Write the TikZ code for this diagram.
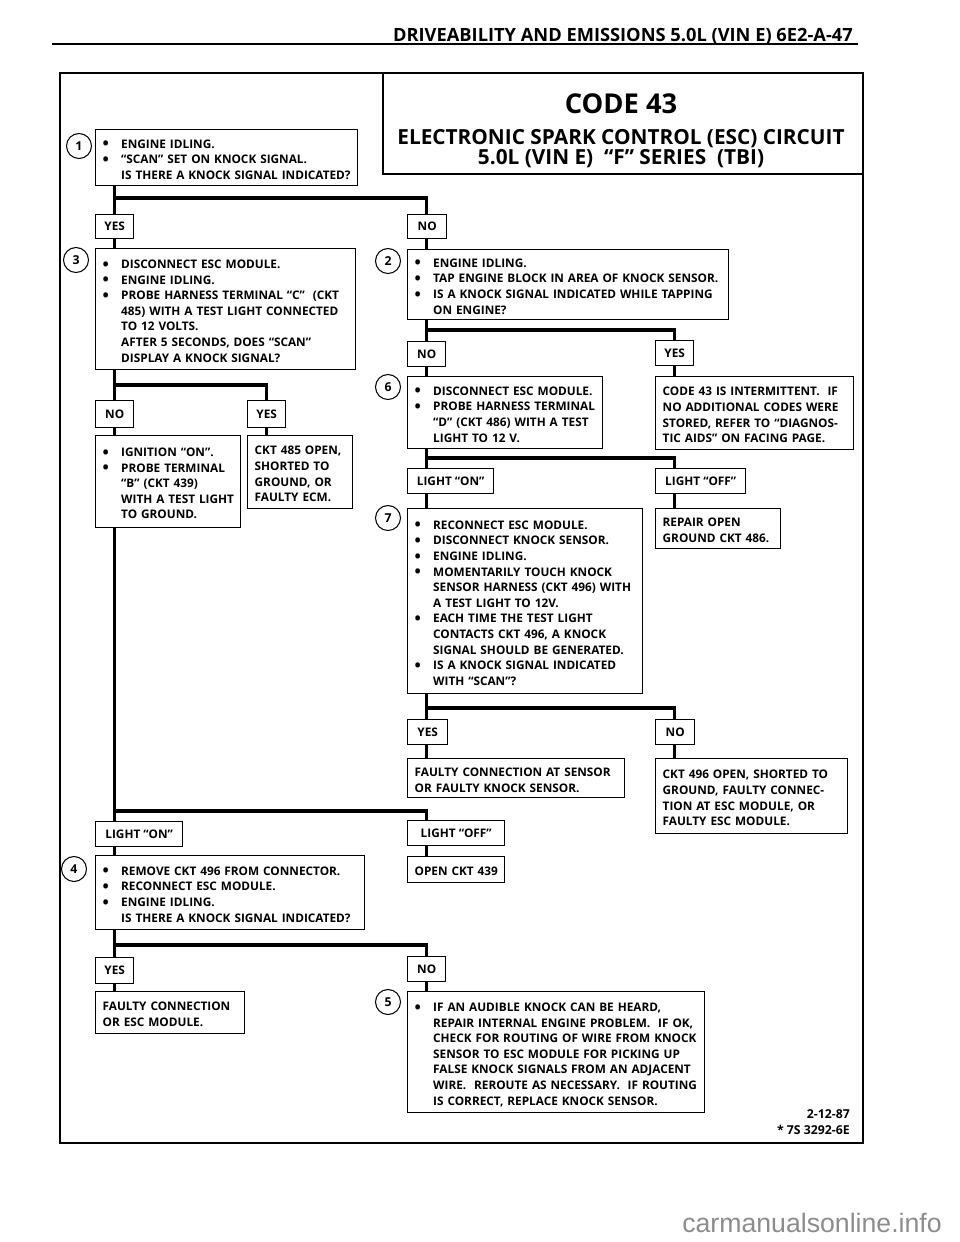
\documentclass[tikz,border=0pt]{standalone}
\usepackage{fontspec}
\setmainfont{Open Sans}
\newfontfamily\wmfamily{Liberation Sans}
\usetikzlibrary{calc}

\newcommand{\boxfont}{\fontsize{8.85}{11.7}\selectfont\bfseries}
\newcommand{\hdrfont}{\fontsize{13.7}{16}\selectfont\bfseries}
\newcommand{\ttlfont}{\fontsize{20.5}{24}\selectfont\bfseries}
\newcommand{\subfont}{\fontsize{15.6}{18}\selectfont\bfseries}
\newcommand{\numfont}{\fontsize{9.2}{10}\selectfont\bfseries}
\newcommand{\ftrfont}{\fontsize{9.2}{11.7}\selectfont\bfseries}
\newcommand{\wmfont}{\wmfamily\fontsize{20}{24}\selectfont}

\newcommand{\bul}{\makebox[13.9pt][l]{\raisebox{-1.2pt}{\fontsize{12.5}{12}\selectfont\textbullet}}}
\newcommand{\ind}{\hspace*{13.9pt}}
\newcommand{\txtrows}[1]{\begin{tabular}[t]{@{}l@{}}\rule{0pt}{12.6pt}#1\end{tabular}}
\newcommand{\drop}[2]{\draw[flow] ($(#1.south west)+(19.5,0)$) -- ($(#2.north west)+(19.5,0)$);}
\newcommand{\fork}[3]{\draw[flow] ($(#1.north west)+(19.5,-#3)$) -| ($(#2.north west)+(19.5,0)$);}

\tikzset{
  chk/.style={draw, line width=1pt, anchor=north west, inner xsep=5.25pt, inner ysep=0pt, font=\boxfont},
  tag/.style={draw, line width=1pt, anchor=north west, inner xsep=3pt, inner ysep=0pt, font=\boxfont},
  flow/.style={line width=2.3pt},
  num/.style={draw, circle, line width=0.8pt, minimum size=18.75pt, inner sep=0pt, font=\numfont},
}

\begin{document}
\begin{tikzpicture}[x=0.75pt,y=0.75pt,yscale=-1,xscale=1]
\useasboundingbox (0,0) rectangle (960,1242);

%Page head
\node[anchor=base east, font=\hdrfont, inner sep=0pt] (hdr) at (853,41) {DRIVEABILITY AND EMISSIONS 5.0L (VIN E) 6E2-A-47};
\draw[line width=1.8pt] (52,44) -- (858,44);

%Frame and title box
\draw[line width=2pt] (60,73) rectangle (863,1143);
\draw[line width=1.3pt] (383,73) -- (383,174) -- (863,174);
\node[anchor=base, font=\ttlfont, inner sep=0pt] (code) at (621,113) {CODE 43};
\node[anchor=base, font=\subfont, inner sep=0pt] (sub1) at (621,144) {ELECTRONIC SPARK CONTROL (ESC) CIRCUIT};
\node[anchor=base, font=\subfont, inner sep=0pt] (sub2) at (621,164) {5.0L (VIN E)~ “F” SERIES~ (TBI)};

% Step 1
\node[num] (n1) at (79,146) {1};
\node[chk, text width=186pt, minimum height=42pt] (b1) at (95,129) {\txtrows{\bul ENGINE IDLING.\\ \bul “SCAN” SET ON KNOCK SIGNAL.\\ \ind IS THERE A KNOCK SIGNAL INDICATED?}};
\node[tag, minimum width=28.5pt, minimum height=18pt] (yes1) at (95,214) {YES};
\node[tag, minimum width=29.25pt, minimum height=18pt] (no1) at (407,214) {NO};

% Step 3
\node[num] (n3) at (76,260) {3};
\node[chk, text width=184.5pt, minimum height=90.75pt] (b3) at (95,248) {\txtrows{\bul DISCONNECT ESC MODULE.\\ \bul ENGINE IDLING.\\ \bul PROBE HARNESS TERMINAL “C”~ (CKT\\ \ind 485) WITH A TEST LIGHT CONNECTED\\ \ind TO 12 VOLTS.\\ \ind AFTER 5 SECONDS, DOES “SCAN”\\ \ind DISPLAY A KNOCK SIGNAL?}};
\node[tag, minimum width=28.5pt, minimum height=20.25pt] (no3) at (95,400) {NO};
\node[tag, minimum width=28.5pt, minimum height=20.25pt] (yes3) at (247,400) {YES};
\node[chk, text width=98.25pt, minimum height=69pt] (b3n) at (95,435) {\txtrows{\bul IGNITION “ON”.\\ \bul PROBE TERMINAL\\ \ind “B” (CKT 439)\\ \ind WITH A TEST LIGHT\\ \ind TO GROUND.}};
\node[chk, text width=68.25pt, minimum height=54.75pt] (b3y) at (247,435) {\txtrows{CKT 485 OPEN,\\ SHORTED TO\\ GROUND, OR\\ FAULTY ECM.}};

% Step 2
\node[num] (n2) at (388,261) {2};
\node[chk, text width=230.25pt, minimum height=52.5pt] (b2) at (407,249) {\txtrows{\bul ENGINE IDLING.\\ \bul TAP ENGINE BLOCK IN AREA OF KNOCK SENSOR.\\ \bul IS A KNOCK SIGNAL INDICATED WHILE TAPPING\\ \ind ON ENGINE?}};
\node[tag, minimum width=28.5pt, minimum height=18.75pt] (no2) at (407,341) {NO};
\node[tag, minimum width=28.5pt, minimum height=18.75pt] (yes2) at (655,340) {YES};
\node[chk, text width=138pt, minimum height=54.75pt] (b2y) at (655,376) {\txtrows{CODE 43 IS INTERMITTENT.~ IF\\ NO ADDITIONAL CODES WERE\\ STORED, REFER TO “DIAGNOS-\\ TIC AIDS” ON FACING PAGE.}};

% Step 6
\node[num] (n6) at (388,387) {6};
\node[chk, text width=135.75pt, minimum height=54pt] (b6) at (407,376) {\txtrows{\bul DISCONNECT ESC MODULE.\\ \bul PROBE HARNESS TERMINAL\\ \ind “D” (CKT 486) WITH A TEST\\ \ind LIGHT TO 12 V.}};
\node[tag, minimum width=64.5pt, minimum height=18.75pt] (on6) at (407,468) {LIGHT “ON”};
\node[tag, minimum width=67.5pt, minimum height=18.75pt] (off6) at (655,468) {LIGHT “OFF”};
\node[chk, text width=83.25pt, minimum height=30pt] (b6y) at (655,508) {\txtrows{REPAIR OPEN\\ GROUND CKT 486.}};

% Step 7
\node[num] (n7) at (388,518) {7};
\node[chk, text width=165.75pt, minimum height=138.75pt] (b7) at (407,508) {\txtrows{\bul RECONNECT ESC MODULE.\\ \bul DISCONNECT KNOCK SENSOR.\\ \bul ENGINE IDLING.\\ \bul MOMENTARILY TOUCH KNOCK\\ \ind SENSOR HARNESS (CKT 496) WITH\\ \ind A TEST LIGHT TO 12V.\\ \bul EACH TIME THE TEST LIGHT\\ \ind CONTACTS CKT 496, A KNOCK\\ \ind SIGNAL SHOULD BE GENERATED.\\ \bul IS A KNOCK SIGNAL INDICATED\\ \ind WITH “SCAN”?}};
\node[tag, minimum width=30pt, minimum height=18.75pt] (yes7) at (407,719) {YES};
\node[tag, minimum width=29.25pt, minimum height=18.75pt] (no7) at (655,719) {NO};
\node[chk, text width=152.25pt, minimum height=29.25pt] (b7y) at (407,758) {\txtrows{FAULTY CONNECTION AT SENSOR\\ OR FAULTY KNOCK SENSOR.}};
\node[chk, text width=133.5pt, minimum height=56.25pt] (b7n) at (655,758) {\txtrows{CKT 496 OPEN, SHORTED TO\\ GROUND, FAULTY CONNEC-\\ TION AT ESC MODULE, OR\\ FAULTY ESC MODULE.}};

% Step 4
\node[tag, minimum width=65.25pt, minimum height=18.75pt] (on4) at (95,821) {LIGHT “ON”};
\node[tag, minimum width=72.75pt, minimum height=18.75pt] (off4) at (407,820) {LIGHT “OFF”};
\node[num] (n4) at (74,869) {4};
\node[chk, text width=191.25pt, minimum height=55.5pt] (b4) at (95,855) {\txtrows{\bul REMOVE CKT 496 FROM CONNECTOR.\\ \bul RECONNECT ESC MODULE.\\ \bul ENGINE IDLING.\\ \ind IS THERE A KNOCK SIGNAL INDICATED?}};
\node[chk, text width=62.25pt, minimum height=19.5pt] (b4o) at (407,856) {\txtrows{OPEN CKT 439}};
\node[tag, minimum width=28.5pt, minimum height=19.5pt] (yes4) at (95,957) {YES};
\node[tag, minimum width=28.5pt, minimum height=18.75pt] (no4) at (407,956) {NO};
\node[chk, text width=101.25pt, minimum height=31.5pt] (b4y) at (95,991) {\txtrows{FAULTY CONNECTION\\ OR ESC MODULE.}};

% Step 5
\node[num] (n5) at (388,1002) {5};
\node[chk, text width=212.25pt, minimum height=90.75pt] (b5) at (407,991) {\txtrows{\bul IF AN AUDIBLE KNOCK CAN BE HEARD,\\ \ind REPAIR INTERNAL ENGINE PROBLEM.~ IF OK,\\ \ind CHECK FOR ROUTING OF WIRE FROM KNOCK\\ \ind SENSOR TO ESC MODULE FOR PICKING UP\\ \ind FALSE KNOCK SIGNALS FROM AN ADJACENT\\ \ind WIRE.~ REROUTE AS NECESSARY.~ IF ROUTING\\ \ind IS CORRECT, REPLACE KNOCK SENSOR.}};

%Straight Lines
\drop{b1}{yes1} \fork{yes1}{no1}{16} \drop{yes1}{b3} \drop{no1}{b2}
\drop{b3}{no3} \fork{no3}{yes3}{15} \drop{no3}{b3n} \drop{yes3}{b3y}
\drop{b2}{no2} \fork{no2}{yes2}{11} \drop{no2}{b6} \drop{yes2}{b2y}
\drop{b6}{on6} \fork{on6}{off6}{10} \drop{on6}{b7} \drop{off6}{b6y}
\drop{b7}{yes7} \fork{yes7}{no7}{11} \drop{yes7}{b7y} \drop{no7}{b7n}
\drop{b3n}{on4} \fork{on4}{off4}{10} \drop{on4}{b4} \drop{off4}{b4o}
\drop{b4}{yes4} \fork{yes4}{no4}{12} \drop{yes4}{b4y} \drop{no4}{b5}

% Text Node
\node[anchor=base east, font=\ftrfont, inner sep=0pt] (date) at (850,1118) {2-12-87};
\node[anchor=base east, font=\ftrfont, inner sep=0pt] (part) at (850,1134) {* 7S 3292-6E};
\node[anchor=base, font=\wmfont, text=black!45, inner sep=0pt] (wm) at (812,1232) {carmanualsonline.info};

\end{tikzpicture}
\end{document}
